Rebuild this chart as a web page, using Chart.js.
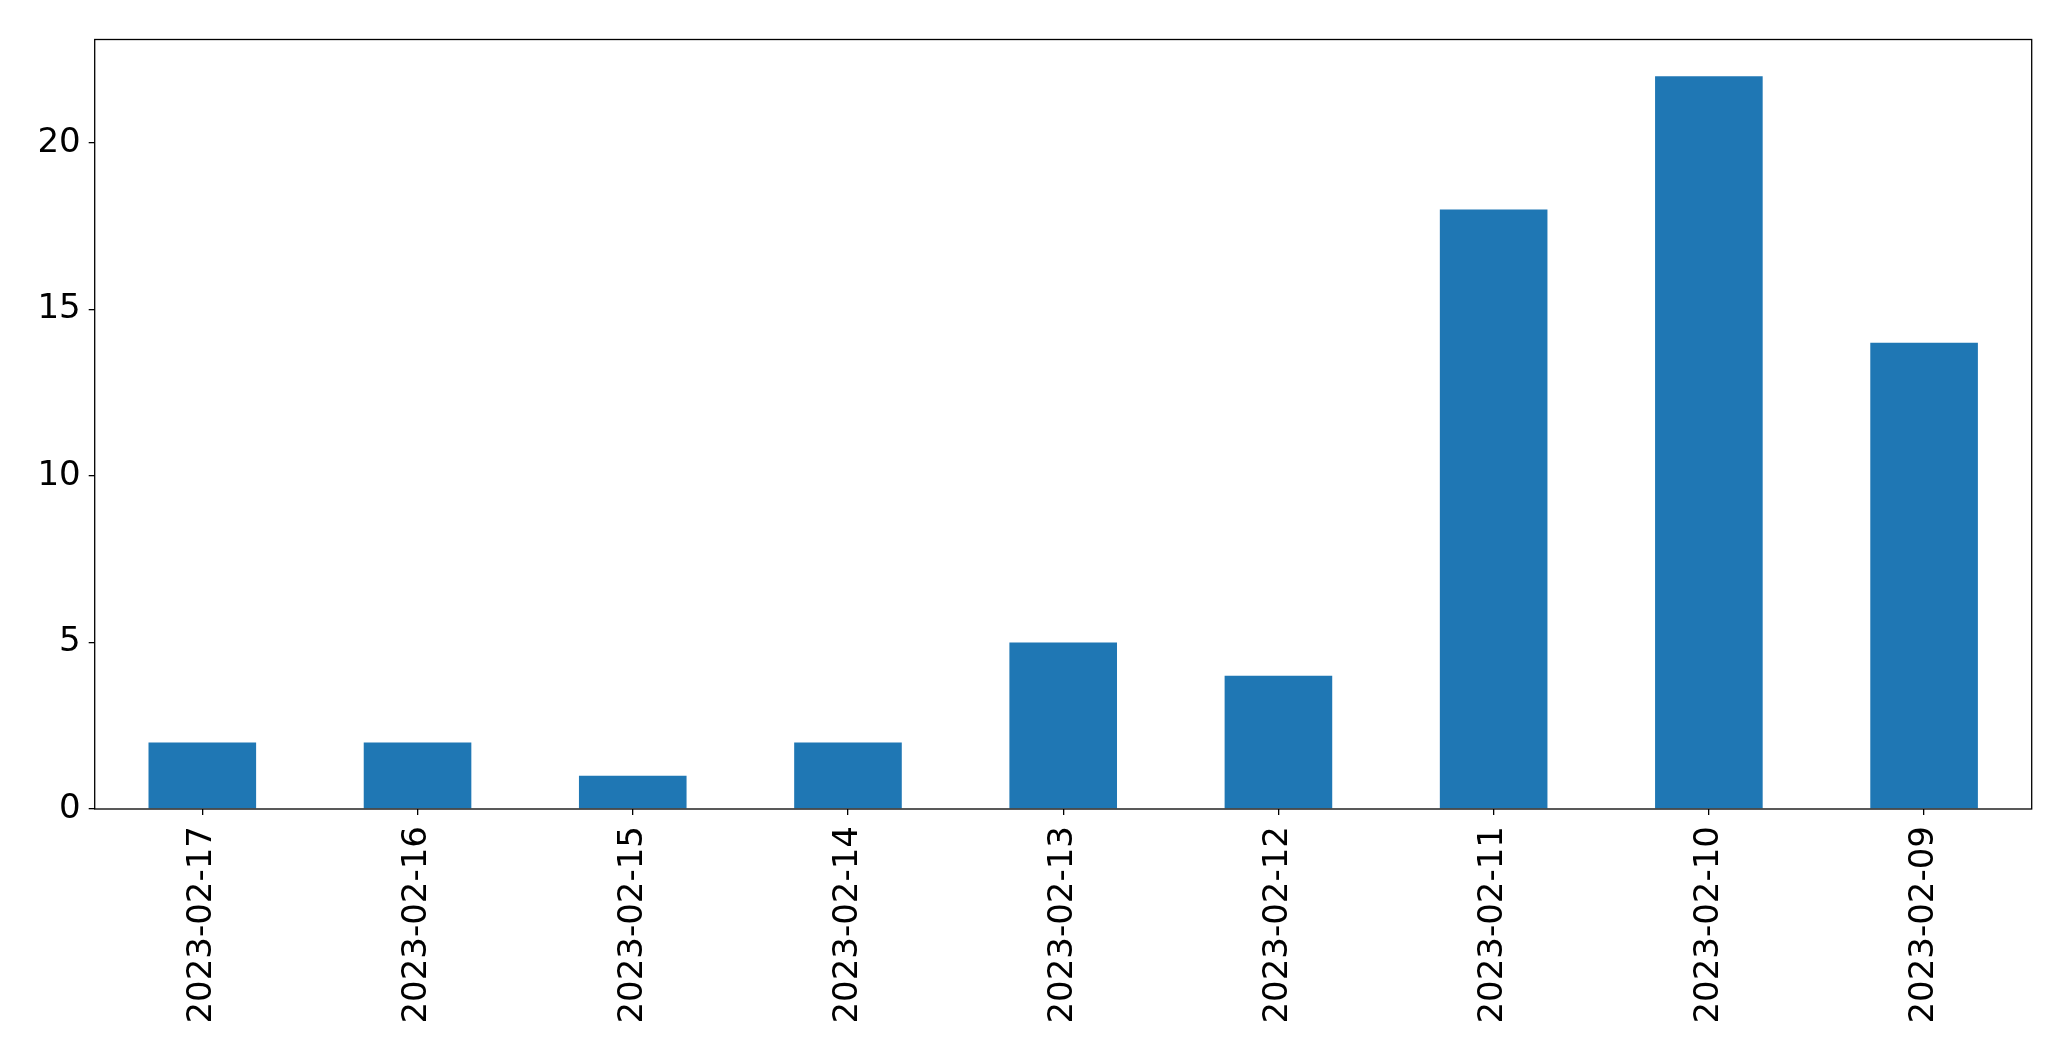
<!DOCTYPE html>
<html>
<head>
<meta charset="utf-8">
<script src="https://cdn.jsdelivr.net/npm/chart.js@4/dist/chart.umd.min.js"></script>
<style>
html,body{margin:0;padding:0;background:#fff;overflow:hidden;}
canvas{display:block;}
</style>
</head>
<body>
<canvas id="c" width="2071" height="1061"></canvas>
<script>
const categories = ["2023-02-17","2023-02-16","2023-02-15","2023-02-14","2023-02-13","2023-02-12","2023-02-11","2023-02-10","2023-02-09"];
const values = [2, 2, 1, 2, 5, 4, 18, 22, 14];
const yTicks = [0, 5, 10, 15, 20];

const PLOT = {left: 94.7, top: 39.5, right: 2031.7, bottom: 809};

const frame = {
  id: 'frame',
  afterDatasetsDraw(chart) {
    const a = chart.chartArea, ctx = chart.ctx;
    ctx.save();
    ctx.strokeStyle = '#000';
    ctx.lineWidth = 1.3;
    ctx.strokeRect(a.left, a.top, a.right - a.left, a.bottom - a.top);
    ctx.restore();
  }
};

new Chart(document.getElementById('c'), {
  type: 'bar',
  data: {
    labels: categories,
    datasets: [{
      data: values,
      backgroundColor: '#1f77b4',
      borderWidth: 0,
      barPercentage: 0.5,
      categoryPercentage: 1.0
    }]
  },
  options: {
    responsive: false,
    animation: false,
    devicePixelRatio: 1,
    layout: {padding: {left: 0, top: PLOT.top, right: 2071 - PLOT.right, bottom: 0}},
    plugins: {legend: {display: false}, tooltip: {enabled: false}},
    scales: {
      x: {
        grid: {display: true, offset: false, drawOnChartArea: false, drawTicks: true, tickLength: 6, color: '#000', lineWidth: 1.3},
        border: {display: false},
        ticks: {
          color: '#000',
          font: {family: 'DejaVu Sans', size: 34},
          maxRotation: 90, minRotation: 90,
          padding: 11,
          autoSkip: false
        },
        afterFit(s) { s.height = 1061 - PLOT.bottom; }
      },
      y: {
        min: 0, max: 23.1,
        grid: {display: true, drawOnChartArea: false, drawTicks: true, tickLength: 6, color: '#000', lineWidth: 1.3},
        border: {display: false},
        afterBuildTicks(s) { s.ticks = yTicks.map(v => ({value: v})); },
        ticks: {
          color: '#000',
          font: {family: 'DejaVu Sans', size: 34},
          padding: 8
        },
        afterFit(s) { s.width = PLOT.left; }
      }
    }
  },
  plugins: [frame]
});
</script>
</body>
</html>
